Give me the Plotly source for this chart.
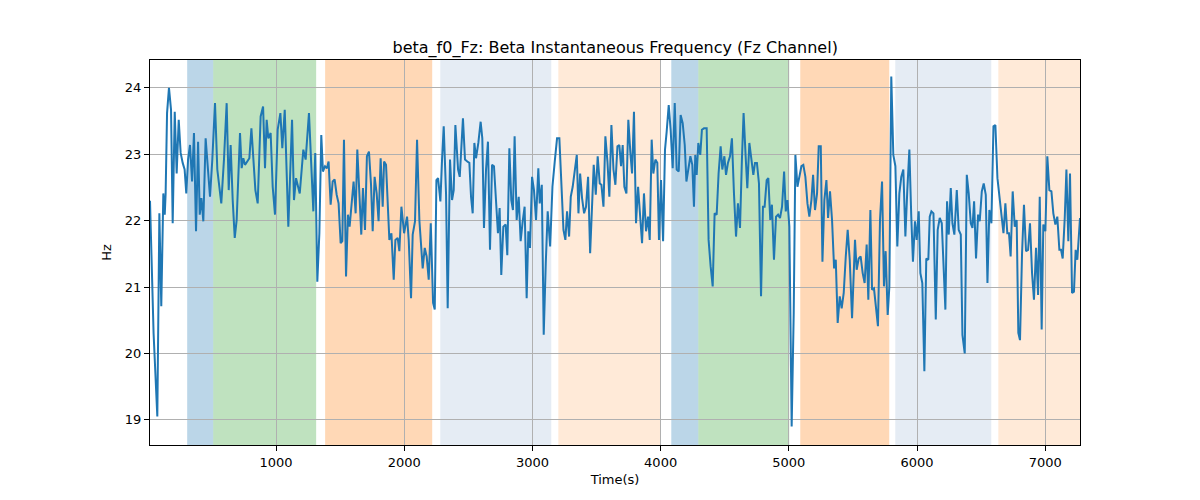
import plotly.graph_objects as go

# time (s) and beta instantaneous frequency (Hz)
t = [17, 45, 74, 90, 105, 121, 132, 139, 150, 165, 181, 194, 210, 225, 241, 256, 272, 287, 300, 314,
     329, 345, 360, 376, 392, 405, 418, 433, 451, 470, 485, 503, 524, 542, 573, 594, 615,
     631, 646, 662, 678, 693, 719, 732, 745, 758, 776, 792, 808, 823, 839, 857, 880, 899, 914, 927,
     940, 958, 974, 992, 1013, 1034, 1049, 1068, 1083, 1096, 1125, 1140, 1156, 1185, 1213,
     1231, 1257, 1275, 1291, 1306, 1322, 1338, 1353, 1366, 1382, 1397, 1410, 1426, 1442, 1457,
     1473, 1488, 1504, 1517, 1530, 1546, 1561, 1574, 1590, 1605, 1621, 1634, 1650, 1665, 1678,
     1694, 1709, 1725, 1741, 1754, 1769, 1785, 1800, 1816, 1832,
     1843, 1858, 1884, 1900, 1918, 1931, 1949, 1962, 1978, 1999, 2022, 2035, 2053, 2066, 2084,
     2100, 2118, 2144, 2160, 2175, 2191, 2207, 2225, 2238, 2251, 2264, 2282, 2295, 2308, 2326,
     2339, 2357, 2373, 2386, 2399, 2420, 2433,
     2458, 2474, 2492, 2508, 2521, 2534, 2547, 2560, 2578, 2596, 2609, 2622, 2638, 2653, 2669,
     2685, 2700, 2716, 2731, 2744, 2757, 2773, 2791, 2804, 2820, 2835, 2848, 2861, 2877, 2893,
     2908, 2924, 2939, 2955, 2968, 2981, 2997, 3012, 3028, 3046,
     3057, 3073, 3088, 3104, 3119, 3138, 3156, 3174, 3192, 3210, 3226, 3242, 3257, 3270, 3286,
     3299, 3314, 3330, 3346, 3359, 3372, 3387, 3403, 3418, 3434, 3450, 3463, 3478, 3494, 3509,
     3525, 3538, 3554, 3569, 3585, 3600, 3616, 3632, 3647, 3663,
     3678, 3691, 3704, 3717, 3733, 3748, 3764, 3777, 3792, 3808, 3824, 3839, 3855, 3870, 3886,
     3902, 3915, 3930, 3943, 3959, 3974, 3987, 4003, 4019, 4034, 4047, 4063, 4078, 4094, 4110,
     4125, 4141, 4156, 4172, 4188, 4201, 4216, 4232, 4247, 4260,
     4270, 4281, 4294, 4309, 4322, 4338, 4359, 4374, 4390, 4406, 4421, 4437, 4452, 4468, 4481,
     4497, 4510, 4525, 4541, 4556, 4572, 4588, 4603, 4619, 4634, 4647, 4663, 4676, 4692, 4707,
     4723, 4736, 4751, 4767, 4783, 4798, 4811, 4827, 4840, 4855, 4868, 4884,
     4900, 4916, 4931, 4947, 4963, 4976, 4989, 5004, 5022, 5038, 5051, 5067, 5082, 5098, 5113,
     5129, 5145, 5160, 5176, 5189, 5204, 5220, 5233, 5249, 5262, 5277, 5293, 5306, 5321, 5337,
     5353, 5366, 5381, 5397, 5412, 5428, 5444, 5459, 5475, 5493,
     5516, 5529, 5545, 5560, 5576, 5591, 5607, 5620, 5636, 5649, 5664, 5680, 5695, 5711, 5727,
     5742, 5755, 5771, 5784, 5799, 5815, 5831, 5846, 5862, 5877, 5893, 5909, 5924, 5940, 5955,
     5968, 5984, 5997, 6013, 6026, 6041, 6057, 6072, 6088,
     6099, 6112, 6128, 6146, 6161, 6177, 6193, 6206, 6221, 6234, 6247, 6263, 6276, 6291, 6310,
     6325, 6341, 6354, 6372, 6388, 6403, 6419, 6432, 6445, 6460, 6476, 6489, 6505, 6520, 6536,
     6549, 6564, 6580, 6596, 6611, 6627, 6642, 6658, 6674, 6689,
     6704, 6717, 6730, 6746, 6762, 6777, 6790, 6803, 6819, 6834, 6850, 6866, 6881, 6897, 6912,
     6928, 6944, 6957, 6972, 6985, 7001, 7016, 7032, 7048, 7063, 7079, 7094, 7110, 7123, 7136,
     7152, 7165, 7180, 7193, 7209, 7224, 7237, 7250, 7266, 7271]

hz = [22.3, 20.3, 19.05, 22.11, 20.71, 22.41, 22.09, 22.41, 23.62, 24.0, 23.67, 21.96, 23.64, 22.71, 23.52, 23.02, 22.87, 22.77, 22.41, 22.92,
      23.14, 22.59, 23.32, 21.84, 23.19, 22.09, 22.34, 21.99, 23.24, 22.77, 22.36, 22.92, 23.77, 22.77, 22.26, 22.92, 23.77,
      22.46, 23.14, 22.31, 21.74, 22.01, 23.32, 22.79, 22.94, 22.84, 22.89, 22.94, 23.39, 22.92, 22.46, 22.26, 23.57, 23.72, 22.79, 23.52,
      23.24, 23.32, 22.51, 22.09, 23.37, 23.62, 23.09, 23.67, 22.71, 21.91, 23.52, 22.31, 22.64, 22.41, 23.07,
      22.92, 23.62, 22.71, 22.14, 23.02, 21.08, 21.81, 23.29, 22.74, 22.82, 22.79, 22.89, 22.24, 22.59, 22.62,
      22.39, 22.26, 21.66, 21.69, 23.22, 21.16, 22.09, 21.91, 22.31, 22.59, 22.11, 23.07, 22.41, 21.79, 22.49,
      21.86, 22.97, 23.04, 22.54, 21.84, 22.66, 22.41, 21.99, 22.94, 22.21,
      22.89, 22.84, 21.71, 21.81, 21.11, 21.71, 21.74, 21.54, 22.21, 21.81, 22.06, 21.71, 20.83, 21.79, 21.99,
      23.22, 22.01, 21.28, 21.59, 21.46, 21.11, 21.96, 20.76, 20.66, 22.61, 22.64, 22.29, 22.92, 23.42, 22.41,
      20.68, 22.92, 22.31, 22.46, 23.44, 22.77, 22.66,
      23.54, 22.92, 22.89, 22.87, 22.36, 22.11, 23.17, 22.94, 23.17, 23.49, 23.24, 21.89, 22.77, 23.19, 21.56,
      22.84, 22.82, 22.26, 21.81, 22.19, 21.18, 21.91, 21.94, 21.48, 23.09, 22.31, 22.16, 23.27, 22.01, 22.36,
      21.69, 21.99, 22.21, 20.83, 21.84, 21.59, 22.66, 22.46, 22.01, 22.79,
      22.26, 22.54, 20.28, 21.36, 22.14, 21.61, 22.51, 22.89, 23.24, 23.24, 22.51, 21.86, 21.71, 22.14, 21.76,
      22.36, 22.51, 22.77, 22.99, 22.11, 22.71, 22.34, 22.11, 22.21, 22.66, 21.51, 22.16, 22.84, 22.39, 22.97,
      22.56, 22.54, 22.21, 23.27, 22.89, 22.36, 23.44, 22.77, 22.54, 23.12,
      23.14, 22.82, 23.14, 22.51, 22.41, 23.52, 23.02, 22.71, 23.64, 21.96, 22.51, 22.11, 21.66, 22.41, 21.84,
      22.06, 21.71, 23.22, 22.71, 22.92, 22.87, 21.71, 22.61, 21.69, 23.07, 23.34, 23.74, 23.37, 22.79, 23.77,
      22.77, 22.74, 23.59, 23.47, 23.14, 22.59, 22.77, 22.97, 22.84, 22.21,
      22.99, 22.69, 23.17, 22.99, 23.37, 23.39, 23.39, 21.71, 21.31, 21.01, 22.11, 22.09, 22.71, 23.12, 22.77,
      22.97, 22.69, 22.87, 22.97, 23.24, 22.41, 21.76, 22.26, 21.89, 22.92, 23.62, 22.97, 22.49, 23.17, 22.92,
      22.69, 22.87, 22.87, 22.56, 20.86, 22.21, 22.21, 22.61, 22.64, 22.01, 22.24, 21.41,
      22.06, 22.09, 22.04, 22.21, 22.74, 22.14, 22.31, 21.91, 18.90, 20.61, 22.99, 22.51, 22.69, 22.82, 22.84,
      22.66, 22.26, 22.06, 22.31, 22.69, 22.16, 22.41, 23.12, 23.12, 21.38, 22.31, 22.61, 22.04, 22.44, 22.01,
      21.28, 21.41, 20.46, 20.86, 20.68, 20.91, 21.46, 21.86, 21.41, 20.53,
      21.71, 21.26, 21.43, 21.46, 21.21, 21.06, 21.64, 20.81, 22.16, 20.96, 20.98, 20.71, 20.41, 22.01, 22.59,
      21.01, 21.54, 20.58, 21.01, 24.17, 22.99, 22.82, 21.61, 22.41, 22.66, 22.77, 21.76, 22.46, 23.07, 22.06,
      21.38, 21.99, 21.71, 22.14, 21.21, 21.06, 19.73, 21.43, 21.41,
      22.06, 22.14, 22.11, 20.51, 21.86, 22.04, 21.96, 21.31, 20.66, 22.29, 21.79, 22.49, 21.96, 21.79, 22.46,
      21.86, 21.79, 20.28, 20.00, 22.69, 22.41, 21.96, 21.89, 22.29, 21.43, 22.09, 21.99, 22.44, 22.56, 22.39,
      21.06, 22.16, 21.96, 23.42, 23.44, 22.64, 22.39, 22.09, 21.81, 22.26,
      21.81, 21.81, 21.46, 22.44, 21.91, 22.01, 20.31, 20.20, 21.51, 22.24, 21.54, 21.56, 21.96, 21.21, 20.81,
      21.59, 20.88, 22.36, 20.36, 21.94, 21.84, 22.97, 22.46, 22.44, 22.11, 21.94, 22.06, 21.56, 21.56, 21.43,
      22.04, 22.77, 21.69, 22.71, 20.91, 20.93, 21.56, 21.41, 22.01, 22.04]

# shaded condition intervals (start, end, colour)
span_start = [307, 510, 1383, 2281, 3202, 4083, 4294, 5089, 5830, 6634]
span_end = [510, 1313, 2218, 3147, 3998, 4294, 5003, 5783, 6579, 7271]
span_color = ["rgba(31,119,180,0.3)", "rgba(44,160,44,0.3)", "rgba(255,127,14,0.3)",
              "rgba(176,196,222,0.33)", "rgba(255,127,14,0.16)",
              "rgba(31,119,180,0.3)", "rgba(44,160,44,0.3)", "rgba(255,127,14,0.3)",
              "rgba(176,196,222,0.33)", "rgba(255,127,14,0.16)"]

x_ticks = [1000, 2000, 3000, 4000, 5000, 6000, 7000]
y_ticks = [19, 20, 21, 22, 23, 24]

fig = go.Figure()
fig.add_trace(go.Scatter(x=t, y=hz, mode="lines",
                         line=dict(color="#1f77b4", width=2), showlegend=False))

for s, e, c in zip(span_start, span_end, span_color):
    fig.add_vrect(x0=s, x1=e, fillcolor=c, line_width=0, layer="below")

axis_common = dict(showgrid=True, gridcolor="#b0b0b0", gridwidth=1,
                   showline=True, mirror=True, linecolor="black", linewidth=1,
                   ticks="outside", ticklen=5, tickcolor="black", zeroline=False,
                   tickfont=dict(size=13, color="black"))

fig.update_xaxes(range=[17, 7271], tickvals=x_ticks,
                 title=dict(text="Time(s)", font=dict(size=13, color="black"), standoff=6),
                 **axis_common)
fig.update_yaxes(range=[18.62, 24.42], tickvals=y_ticks,
                 title=dict(text="Hz", font=dict(size=13, color="black"), standoff=10),
                 **axis_common)

fig.update_layout(
    width=1200, height=500,
    margin=dict(l=142, r=128, t=52, b=63),
    paper_bgcolor="white", plot_bgcolor="white",
    font=dict(family="DejaVu Sans", color="black"),
    title=dict(text="beta_f0_Fz: Beta Instantaneous Frequency (Fz Channel)",
               x=0.506, xanchor="center", y=0.91, yanchor="bottom",
               font=dict(size=16, color="black")),
)

fig.write_html("out.html")
